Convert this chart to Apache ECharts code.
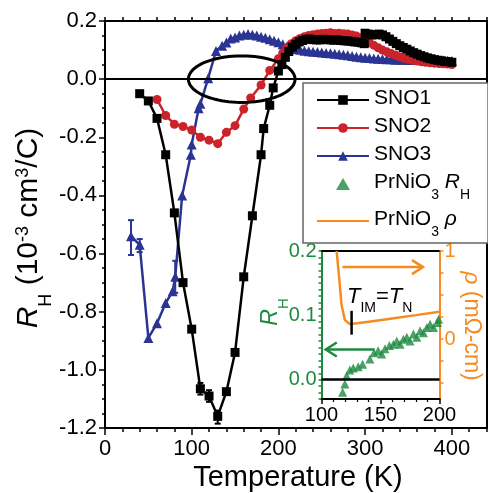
<!DOCTYPE html>
<html>
<head>
<meta charset="utf-8">
<script src="https://cdn.jsdelivr.net/npm/echarts@6/dist/echarts.min.js"></script>
<style>
  html, body { margin: 0; padding: 0; background: #fff; }
  #chart { width: 488px; height: 493px; }
</style>
</head>
<body>
<div id="chart"></div>
<script>
// ---- main panel: Hall coefficient vs temperature ----
const sno1Temp = [40, 50, 60, 70, 80, 90, 100, 110, 120, 130, 140, 150, 160, 170, 180, 183, 190, 194, 200,
  204, 208, 212, 216, 220, 224, 228, 232, 236, 240, 244, 248, 252, 256, 260, 264, 268, 272, 276, 280,
  284, 288, 292, 296, 299, 300, 304, 308, 312, 316, 320, 324, 328, 332, 336, 340, 344, 348, 352, 356,
  360, 364, 368, 372, 376, 380, 384, 388, 392, 396, 400];
const sno1Rh = [-0.05, -0.075, -0.135, -0.26, -0.46, -0.70, -0.86, -1.065, -1.09, -1.16, -1.075, -0.94, -0.68, -0.47, -0.26, -0.17, -0.09, -0.03, 0.028,
  0.05, 0.075, 0.095, 0.11, 0.12, 0.128, 0.133, 0.137, 0.138, 0.136, 0.135, 0.135, 0.137, 0.136, 0.135, 0.134, 0.135, 0.133, 0.132, 0.131,
  0.13, 0.128, 0.127, 0.125, 0.122, 0.158, 0.155, 0.152, 0.153, 0.155, 0.152, 0.146, 0.138, 0.13, 0.122, 0.115, 0.109, 0.103, 0.097, 0.091,
  0.086, 0.081, 0.077, 0.073, 0.07, 0.067, 0.065, 0.063, 0.061, 0.06, 0.058];

const sno2Temp = [60, 70, 80, 90, 100, 110, 120, 130, 140, 150, 160, 168, 180, 190, 200,
  205, 210, 215, 220, 225, 230, 235, 240, 245, 250, 255, 260, 265, 270, 275, 280, 285, 290, 295, 300,
  305, 310, 315, 320, 325, 330, 335, 340, 345, 350, 355, 360, 365, 370, 375, 380, 385, 390, 395, 400];
const sno2Rh = [-0.07, -0.125, -0.155, -0.163, -0.175, -0.2, -0.21, -0.222, -0.183, -0.16, -0.103, -0.065, -0.02, 0.03, 0.07,
  0.09, 0.108, 0.122, 0.132, 0.14, 0.146, 0.15, 0.153, 0.155, 0.157, 0.158, 0.16, 0.157, 0.158, 0.156, 0.155, 0.152, 0.148, 0.142, 0.133,
  0.125, 0.117, 0.108, 0.1, 0.094, 0.088, 0.082, 0.077, 0.072, 0.068, 0.065, 0.062, 0.06, 0.058, 0.056, 0.055, 0.054, 0.053, 0.052, 0.05];

const sno3Temp = [30, 40, 50, 60, 70, 78, 81, 89, 99, 100, 108, 110, 119, 128, 135, 140, 145, 150, 155, 160,
  165, 170, 175, 180, 185, 190, 195, 200, 205, 210, 215, 220, 225, 230, 235, 240, 245, 250, 255, 260,
  265, 270, 275, 280, 285, 290, 295, 300, 305, 310, 315, 320, 325, 330, 335, 340, 345, 350, 355, 360,
  365, 370, 375, 380, 385, 390, 395, 400];
const sno3Rh = [-0.54, -0.57, -0.89, -0.84, -0.77, -0.73, -0.68, -0.40, -0.26, -0.225, -0.10, -0.085, 0.003, 0.097, 0.115, 0.126, 0.14, 0.143, 0.15, 0.153,
  0.155, 0.153, 0.15, 0.146, 0.142, 0.137, 0.132, 0.127, 0.12, 0.113, 0.108, 0.104, 0.101, 0.098, 0.096, 0.094, 0.093, 0.092, 0.09, 0.089,
  0.087, 0.086, 0.084, 0.082, 0.08, 0.077, 0.075, 0.074, 0.073, 0.071, 0.07, 0.069, 0.068, 0.068, 0.067, 0.067, 0.067, 0.066, 0.066, 0.066,
  0.066, 0.066, 0.065, 0.065, 0.064, 0.064, 0.063, 0.062];

// error bars [T, low, high]
const sno1Err = [[110, -1.085, -1.045], [120, -1.11, -1.07], [130, -1.185, -1.14]];
const sno3Err = [[30, -0.605, -0.485], [40, -0.595, -0.55], [81, -0.735, -0.625]];

// ellipse annotation [T, Rh, radiusT, radiusRh]
const ellipseMark = [157.7, 0, 61.5, 0.08];

const xTicksMain = [0, 100, 200, 300, 400];

// ---- inset: PrNiO3 ----
const prTemp = [117.9, 119.8, 121.3, 124, 126.9, 131.1, 134.8, 141, 144.5, 148, 151, 153.8, 157.5, 160.9,
  163.8, 166.6, 169.4, 172.3, 175, 177.9, 180.8, 183.6, 186.4, 189.3, 192, 194.9, 198.3, 199.2];
const prRh = [-0.0196, -0.0067, 0.006, 0.015, 0.018, 0.020, 0.024, 0.032, 0.042, 0.045, 0.040, 0.048, 0.053, 0.055,
  0.060, 0.055, 0.063, 0.066, 0.060, 0.071, 0.066, 0.076, 0.073, 0.081, 0.086, 0.081, 0.089, 0.094];

const rhoTemp = [112.8, 115, 117, 119.8, 124, 128.3, 140, 160, 180, 200];
const rhoVal = [1.0, 0.69, 0.386, 0.216, 0.17, 0.178, 0.198, 0.235, 0.272, 0.31];

// arrows in inset (Rh axis coords) [T1, Rh1, T2, Rh2]
const arrowOrange = [117.7, 0.175, 186, 0.175];
const arrowGreen = [145, 0.047, 103.6, 0.047];
// T_IM marker [T, RhLow, RhHigh]
const timMark = [125.5, 0.07, 0.107];

const BLACK = '#000';
const RED = '#cc2229';
const BLUE = '#2a3593';
const GREEN = '#1b8a3e';
const ORANGE = '#f68b1f';
const FONT = '"Liberation Sans", Arial, sans-serif';

const zip = (a, b) => a.map((v, i) => [v, b[i]]);

function errRender(color) {
  return function (params, api) {
    const hi = api.coord([api.value(0), api.value(2)]);
    const lo = api.coord([api.value(0), api.value(1)]);
    const w = 3;
    const st = { stroke: color, lineWidth: 2 };
    return {
      type: 'group',
      children: [
        { type: 'line', shape: { x1: hi[0], y1: hi[1], x2: lo[0], y2: lo[1] }, style: st },
        { type: 'line', shape: { x1: hi[0] - w, y1: hi[1], x2: hi[0] + w, y2: hi[1] }, style: st },
        { type: 'line', shape: { x1: lo[0] - w, y1: lo[1], x2: lo[0] + w, y2: lo[1] }, style: st },
      ],
    };
  };
}

function arrowShape(p1, p2, color) {
  const dx = p2[0] - p1[0], dy = p2[1] - p1[1];
  const len = Math.sqrt(dx * dx + dy * dy);
  const ux = dx / len, uy = dy / len;
  const hl = 11, hw = 7;
  const bx = p2[0] - ux * hl, by = p2[1] - uy * hl;
  return [
    { type: 'line', shape: { x1: p1[0], y1: p1[1], x2: p2[0], y2: p2[1] }, style: { stroke: color, lineWidth: 2.5 } },
    { type: 'polyline', shape: { points: [[bx - uy * hw, by + ux * hw], p2, [bx + uy * hw, by - ux * hw]] },
      style: { stroke: color, lineWidth: 2.5, fill: 'none' } },
  ];
}

const chart = echarts.init(document.getElementById('chart'), null, { renderer: 'canvas' });

const legendLabels = {
  'SNO1': '{n|SNO1}',
  'SNO2': '{n|SNO2}',
  'SNO3': '{n|SNO3}',
  'PrNiO3 RH': '{n|PrNiO}{sub|3}{n| }{i|R}{sub|H}',
  'PrNiO3 rho': '{n|PrNiO}{sub|3}{n| }{i|ρ}',
};

chart.setOption({
  animation: false,
  backgroundColor: '#fff',
  textStyle: { fontFamily: FONT, color: BLACK },
  grid: [
    { left: 105, top: 21, right: 1.5, bottom: 65 },
    { left: 321.5, top: 251, width: 118, height: 148 },
  ],
  legend: {
    data: [
      'SNO1', 'SNO2', 'SNO3',
      { name: 'PrNiO3 RH', icon: 'path://M0,10 L5.8,0 L11.6,10 Z' },
      { name: 'PrNiO3 rho', itemStyle: { opacity: 0 } },
    ],
    orient: 'vertical',
    left: 303,
    top: 83,
    padding: [5, 18, 4, 13],
    itemGap: 7,
    itemWidth: 52,
    itemHeight: 12,
    symbolKeepAspect: true,
    selectedMode: false,
    backgroundColor: '#fff',
    borderColor: '#666',
    borderWidth: 1.5,
    borderRadius: 0,
    formatter: (name) => legendLabels[name],
    textStyle: {
      rich: {
        n: { fontSize: 21, lineHeight: 24, verticalAlign: 'top', color: BLACK, fontFamily: FONT },
        i: { fontSize: 21, lineHeight: 24, verticalAlign: 'top', fontStyle: 'italic', color: BLACK, fontFamily: FONT },
        sub: { fontSize: 14, lineHeight: 14, padding: [16, 0, 0, 0], verticalAlign: 'top', color: BLACK, fontFamily: FONT },
      },
    },
  },
  xAxis: [
    {
      gridIndex: 0, type: 'value', position: 'bottom', min: 0, max: 440, interval: 20,
      axisLine: { onZero: false, lineStyle: { color: BLACK, width: 2 } },
      axisTick: { length: 4, lineStyle: { color: BLACK, width: 1.5 } },
      axisLabel: { customValues: xTicksMain, fontSize: 22, color: BLACK, margin: 10 },
      splitLine: { show: false },
    },
    {
      gridIndex: 0, type: 'value', position: 'bottom', min: 0, max: 440,
      axisLine: { show: false, onZero: false },
      axisTick: { customValues: xTicksMain, length: 7, lineStyle: { color: BLACK, width: 1.5 } },
      axisLabel: { show: false },
      splitLine: { show: false },
    },
    {
      gridIndex: 0, type: 'value', position: 'top', min: 0, max: 440, interval: 20,
      axisLine: { onZero: false, lineStyle: { color: BLACK, width: 2 } },
      axisTick: { length: 4, lineStyle: { color: BLACK, width: 1.5 } },
      axisLabel: { show: false },
      splitLine: { show: false },
    },
    {
      gridIndex: 1, type: 'value', position: 'bottom', min: 100, max: 200, interval: 50,
      axisLine: { onZero: false, lineStyle: { color: BLACK, width: 2 } },
      axisTick: { length: 5, lineStyle: { color: BLACK, width: 1.5 } },
      minorTick: { show: true, splitNumber: 5, length: 3, lineStyle: { color: BLACK, width: 1.2 } },
      axisLabel: { fontSize: 20, color: BLACK, margin: 6 },
      splitLine: { show: false },
    },
    {
      gridIndex: 1, type: 'value', position: 'top', min: 100, max: 200,
      axisLine: { onZero: false, lineStyle: { color: BLACK, width: 2 } },
      axisTick: { show: false },
      axisLabel: { show: false },
      splitLine: { show: false },
    },
  ],
  yAxis: [
    {
      gridIndex: 0, type: 'value', position: 'left', min: -1.2, max: 0.2, interval: 0.2,
      axisLine: { onZero: false, lineStyle: { color: BLACK, width: 2 } },
      axisTick: { length: 6, lineStyle: { color: BLACK, width: 1.5 } },
      minorTick: { show: true, splitNumber: 4, length: 3, lineStyle: { color: BLACK, width: 1.5 } },
      axisLabel: { fontSize: 22, color: BLACK, margin: 8, formatter: (v) => v.toFixed(1) },
      splitLine: { show: false },
    },
    {
      gridIndex: 0, type: 'value', position: 'right', min: -1.2, max: 0.2,
      axisLine: { onZero: false, lineStyle: { color: BLACK, width: 2 } },
      axisTick: { show: false },
      axisLabel: { show: false },
      splitLine: { show: false },
    },
    {
      gridIndex: 1, type: 'value', position: 'left', min: -0.03, max: 0.2, interval: 0.01,
      axisLine: { onZero: false, lineStyle: { color: GREEN, width: 2 } },
      axisTick: { length: 3, lineStyle: { color: GREEN, width: 1.5 } },
      axisLabel: { customValues: [0, 0.1, 0.2], fontSize: 20, color: GREEN, margin: 5, formatter: (v) => v.toFixed(1) },
      splitLine: { show: false },
    },
    {
      gridIndex: 1, type: 'value', position: 'right', min: -0.68, max: 1.0,
      axisLine: { onZero: false, lineStyle: { color: ORANGE, width: 2 } },
      axisTick: { customValues: [-0.5, -0.25, 0, 0.25, 0.5, 0.75, 1], length: 4, lineStyle: { color: ORANGE, width: 1.5 } },
      axisLabel: { customValues: [0, 1], fontSize: 20, color: ORANGE, margin: 5, formatter: (v) => String(Math.round(v)) },
      splitLine: { show: false },
    },
  ],
  graphic: [
    {
      // main y-axis title
      type: 'text', x: 31, y: 228, rotation: Math.PI / 2, z: 100,
      style: {
        text: '{i|R}{sub|H}{n| (10}{sup|-3}{n| cm}{sup|3}{n|/C)}',
        align: 'center', verticalAlign: 'middle',
        rich: {
          n: { fontSize: 30, lineHeight: 34, verticalAlign: 'top', fill: BLACK, fontFamily: FONT },
          i: { fontSize: 30, lineHeight: 34, verticalAlign: 'top', fontStyle: 'italic', fill: BLACK, fontFamily: FONT },
          sup: { fontSize: 18, lineHeight: 18, verticalAlign: 'top', fill: BLACK, fontFamily: FONT },
          sub: { fontSize: 18, lineHeight: 18, padding: [23, 0, 0, 0], verticalAlign: 'top', fill: BLACK, fontFamily: FONT },
        },
      },
    },
    {
      // main x-axis title
      type: 'text', x: 298, y: 478, z: 100,
      style: { text: 'Temperature (K)', align: 'center', verticalAlign: 'middle', fontSize: 29, fontFamily: FONT, fill: BLACK },
    },
    {
      // inset left axis title
      type: 'text', x: 272, y: 312, rotation: Math.PI / 2, z: 100,
      style: {
        text: '{i|R}{sub|H}',
        align: 'center', verticalAlign: 'middle',
        rich: {
          i: { fontSize: 23, lineHeight: 26, verticalAlign: 'top', fontStyle: 'italic', fill: GREEN, fontFamily: FONT },
          sub: { fontSize: 15, lineHeight: 15, padding: [17, 0, 0, 0], verticalAlign: 'top', fill: GREEN, fontFamily: FONT },
        },
      },
    },
    {
      // inset right axis title
      type: 'text', x: 471, y: 326, rotation: -Math.PI / 2, z: 100,
      style: {
        text: '{i|ρ}{n| (mΩ-cm)}',
        align: 'center', verticalAlign: 'middle',
        rich: {
          n: { fontSize: 23, fill: ORANGE, fontFamily: FONT },
          i: { fontSize: 23, fontStyle: 'italic', fill: ORANGE, fontFamily: FONT },
        },
      },
    },
    {
      type: 'text', left: 347, top: 286, z: 100,
      style: {
        text: '{t|T}{s|IM}{e|=}{t|T}{s|N}',
        rich: {
          t: { fontSize: 22, lineHeight: 24, verticalAlign: 'top', fontStyle: 'italic', fill: BLACK, fontFamily: FONT },
          e: { fontSize: 22, lineHeight: 24, verticalAlign: 'top', fill: BLACK, fontFamily: FONT },
          s: { fontSize: 14, lineHeight: 14, padding: [15, 0, 0, 0], verticalAlign: 'top', fill: BLACK, fontFamily: FONT },
        },
      },
    },
  ],
  series: [
    {
      name: 'SNO1', type: 'line', xAxisIndex: 0, yAxisIndex: 0, z: 4,
      data: zip(sno1Temp, sno1Rh),
      symbol: 'rect', symbolSize: 9,
      lineStyle: { color: BLACK, width: 2.5 },
      itemStyle: { color: BLACK },
      markLine: {
        silent: true, symbol: 'none', label: { show: false },
        lineStyle: { color: BLACK, width: 2, type: 'solid' },
        data: [{ yAxis: 0 }],
      },
    },
    {
      name: 'SNO2', type: 'line', xAxisIndex: 0, yAxisIndex: 0, z: 3,
      data: zip(sno2Temp, sno2Rh),
      symbol: 'circle', symbolSize: 9,
      lineStyle: { color: RED, width: 2.5 },
      itemStyle: { color: RED },
    },
    {
      name: 'SNO3', type: 'line', xAxisIndex: 0, yAxisIndex: 0, z: 2,
      data: zip(sno3Temp, sno3Rh),
      symbol: 'triangle', symbolSize: 10,
      lineStyle: { color: BLUE, width: 2.5 },
      itemStyle: { color: BLUE },
    },
    {
      type: 'custom', xAxisIndex: 0, yAxisIndex: 0, z: 4, silent: true,
      encode: { x: 0, y: [1, 2] },
      data: sno1Err, renderItem: errRender(BLACK),
    },
    {
      type: 'custom', xAxisIndex: 0, yAxisIndex: 0, z: 2, silent: true,
      encode: { x: 0, y: [1, 2] },
      data: sno3Err, renderItem: errRender(BLUE),
    },
    {
      type: 'custom', xAxisIndex: 0, yAxisIndex: 0, z: 6, silent: true,
      data: [ellipseMark],
      renderItem: (params, api) => {
        const c = api.coord([api.value(0), api.value(1)]);
        const s = api.size([api.value(2), api.value(3)]);
        const pts = [];
        for (let k = 0; k < 90; k++) {
          const a = (k / 90) * 2 * Math.PI;
          pts.push([c[0] + s[0] * Math.cos(a), c[1] + s[1] * Math.sin(a)]);
        }
        return { type: 'polygon', shape: { points: pts }, style: { fill: 'none', stroke: BLACK, lineWidth: 3 } };
      },
    },
    {
      name: 'PrNiO3 RH', type: 'scatter', xAxisIndex: 3, yAxisIndex: 2,
      data: zip(prTemp, prRh),
      symbol: 'triangle', symbolSize: 9,
      itemStyle: { color: GREEN },
      markLine: {
        silent: true, symbol: 'none', label: { show: false },
        lineStyle: { color: BLACK, width: 2.5, type: 'solid' },
        data: [{ yAxis: 0 }],
      },
    },
    {
      name: 'PrNiO3 rho', type: 'line', xAxisIndex: 3, yAxisIndex: 3,
      data: zip(rhoTemp, rhoVal),
      symbol: 'none',
      lineStyle: { color: ORANGE, width: 2.5 },
      itemStyle: { color: ORANGE },
    },
    {
      type: 'custom', xAxisIndex: 3, yAxisIndex: 2, silent: true, z: 5,
      data: [[0]],
      renderItem: (params, api) => {
        const oa = api.coord([arrowOrange[0], arrowOrange[1]]);
        const ob = api.coord([arrowOrange[2], arrowOrange[3]]);
        const ga = api.coord([arrowGreen[0], arrowGreen[1]]);
        const gb = api.coord([arrowGreen[2], arrowGreen[3]]);
        const t1 = api.coord([timMark[0], timMark[1]]);
        const t2 = api.coord([timMark[0], timMark[2]]);
        return {
          type: 'group',
          children: [
            ...arrowShape(oa, ob, ORANGE),
            ...arrowShape(ga, gb, GREEN),
            { type: 'line', shape: { x1: t1[0], y1: t1[1], x2: t2[0], y2: t2[1] }, style: { stroke: BLACK, lineWidth: 2.5 } },
          ],
        };
      },
    },
  ],
});
</script>
</body>
</html>
